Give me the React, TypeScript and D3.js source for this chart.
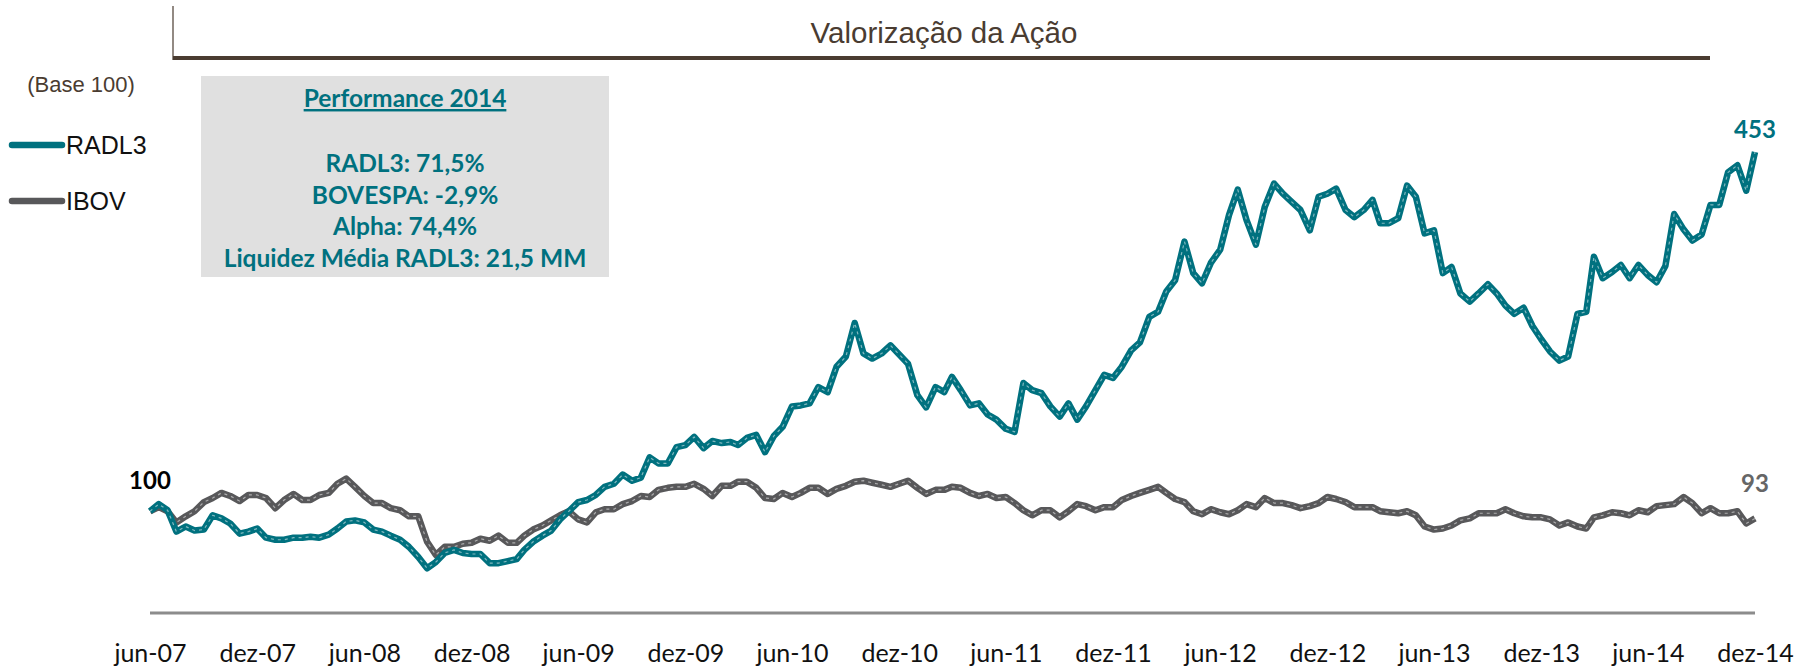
import React, { useEffect, useRef } from 'react';
import * as d3 from 'd3';

// valores base 100, um ponto a cada meio mês (jun-07 .. dez-14)
const radl3 = [
  100, 107, 101, 80, 85, 81, 82, 96, 93, 88, 78, 80, 83, 74, 72, 72, 74, 74, 75, 74,
  77, 83, 90, 91, 89, 82, 80, 76, 72, 65, 55, 44, 50, 59, 62, 59,
  58, 58, 49, 49, 51, 53, 62, 70, 76, 81, 92, 100, 109, 111, 116, 124, 127, 136, 130, 133,
  153, 147, 147, 163, 165, 173, 162, 169, 167, 168, 165, 172, 175, 158, 174, 183, 203, 204,
  206, 222, 217, 242, 252, 285, 255, 250, 255, 263, 254, 245, 214, 202, 222, 217, 232, 219, 204, 206,
  195, 190, 181, 178, 226, 219, 216, 203, 193, 206, 190, 203, 219, 234, 231, 242,
  258, 266, 291, 296, 316, 327, 365, 334, 324, 344, 357, 391, 416, 386, 362, 399, 422, 412, 404, 396,
  376, 409, 412, 417, 396, 389, 396, 406, 383, 383, 388, 420, 409, 373, 376, 334, 340, 314,
  306, 314, 323, 314, 302, 294, 300, 282, 269, 257, 248, 252, 294, 296, 350, 329, 335, 342, 329, 342,
  332, 325, 341, 392, 377, 366, 372, 401, 401, 433, 440, 415, 453,
];

const ibov = [
  100, 104, 100, 89, 95, 100, 109, 113, 118, 115, 110, 116, 116, 113, 103, 111, 117, 111, 111, 116,
  118, 127, 132, 124, 115, 108, 108, 103, 101, 95, 95, 70, 57, 65, 65, 68,
  69, 73, 71, 76, 69, 69, 76, 82, 86, 91, 96, 100, 92, 89, 99, 102, 102, 107, 110, 115,
  114, 121, 123, 124, 124, 127, 122, 115, 125, 125, 129, 129, 123, 113, 112, 118, 114, 118,
  123, 123, 117, 122, 125, 129, 130, 128, 126, 124, 127, 130, 123, 117, 121, 121, 124, 123, 118, 115,
  117, 113, 114, 108, 101, 96, 101, 101, 94, 100, 107, 105, 101, 104, 104, 111,
  115, 118, 121, 124, 118, 112, 109, 100, 97, 102, 99, 97, 101, 107, 104, 113, 108, 108, 106, 103,
  105, 108, 114, 112, 109, 104, 104, 104, 100, 99, 98, 100, 96, 85, 82, 83, 86, 91,
  93, 98, 98, 98, 102, 98, 95, 94, 94, 92, 86, 89, 85, 83, 94, 96, 99, 98, 96, 101,
  99, 105, 106, 107, 114, 108, 98, 103, 98, 98, 100, 88, 93,
];

const seriesNames = ['RADL3', 'IBOV'];
const perfTitle = 'Performance 2014';
const perfLines = ['RADL3: 71,5%', 'BOVESPA: -2,9%', 'Alpha: 74,4%', 'Liquidez Média RADL3: 21,5 MM'];

const TEAL = '#00717f';
const GREY = '#58585a';
const BROWN = '#4a3c31';

const ptBR = d3.timeFormatLocale({
  dateTime: '%A, %e de %B de %Y. %X',
  date: '%d/%m/%Y',
  time: '%H:%M:%S',
  periods: ['AM', 'PM'],
  days: ['Domingo', 'Segunda', 'Terça', 'Quarta', 'Quinta', 'Sexta', 'Sábado'],
  shortDays: ['Dom', 'Seg', 'Ter', 'Qua', 'Qui', 'Sex', 'Sáb'],
  months: ['Janeiro', 'Fevereiro', 'Março', 'Abril', 'Maio', 'Junho', 'Julho', 'Agosto', 'Setembro', 'Outubro', 'Novembro', 'Dezembro'],
  shortMonths: ['jan', 'fev', 'mar', 'abr', 'mai', 'jun', 'jul', 'ago', 'set', 'out', 'nov', 'dez'],
});

const App = () => {
  const ref = useRef<SVGSVGElement | null>(null);

  useEffect(() => {
    const svg = d3.select(ref.current);
    svg.selectAll('*').remove();

    const dates = radl3.map((_, i) => new Date(2007, 5 + Math.floor(i / 2), i % 2 ? 16 : 1));
    const start = new Date(2007, 5, 1);
    const end = new Date(2014, 11, 1);

    const x = d3.scaleTime().domain([start, end]).range([150, 1755]);
    const y = d3.scaleLinear().domain([0, 453]).range([613, 152]);

    // titulo
    svg.append('line').attr('x1', 173).attr('x2', 173).attr('y1', 6).attr('y2', 60)
      .attr('stroke', BROWN).attr('stroke-width', 1.2);
    svg.append('line').attr('x1', 173).attr('x2', 1710).attr('y1', 58).attr('y2', 58)
      .attr('stroke', BROWN).attr('stroke-width', 4);
    svg.append('text').attr('x', 944).attr('y', 43).attr('text-anchor', 'middle')
      .attr('font-family', 'Liberation Sans, Arial, sans-serif').attr('font-size', 29.5)
      .attr('fill', BROWN).text('Valorização da Ação');

    svg.append('text').attr('x', 81).attr('y', 92).attr('text-anchor', 'middle')
      .attr('font-family', 'Liberation Sans Narrow, Liberation Sans, Arial, sans-serif').attr('font-size', 22)
      .attr('fill', BROWN).text('(Base 100)');

    // legenda
    const legend = svg.append('g');
    seriesNames.forEach((name, i) => {
      const ly = 145 + i * 56;
      legend.append('line').attr('x1', 12).attr('x2', 62).attr('y1', ly).attr('y2', ly)
        .attr('stroke', i === 0 ? TEAL : GREY).attr('stroke-width', 6.5).attr('stroke-linecap', 'round');
      legend.append('text').attr('x', 66).attr('y', ly + 9)
        .attr('font-family', 'Liberation Sans Narrow, Liberation Sans, Arial, sans-serif').attr('font-size', 25)
        .attr('fill', '#111').text(name);
    });

    // caixa de performance
    svg.append('rect').attr('x', 201).attr('y', 76).attr('width', 408).attr('height', 201).attr('fill', '#e0e0e0');
    svg.append('text').attr('x', 405).attr('y', 107).attr('text-anchor', 'middle')
      .attr('font-family', 'Lato, sans-serif').attr('font-weight', 700).attr('font-size', 24.5)
      .attr('fill', TEAL).style('text-decoration', 'underline').text(perfTitle);
    svg.selectAll('.perf').data(perfLines).enter().append('text')
      .attr('class', 'perf')
      .attr('x', 405).attr('y', (_, i) => 172 + i * 31.5).attr('text-anchor', 'middle')
      .attr('font-family', 'Lato, sans-serif').attr('font-weight', 700).attr('font-size', 24.5)
      .attr('fill', TEAL).text(d => d);

    // eixo x
    const ticks = d3.timeMonth.range(start, d3.timeMonth.offset(end, 1), 6);
    const fmt = ptBR.format('%b-%y');
    const axis = svg.append('g').attr('transform', 'translate(0,613)')
      .call(d3.axisBottom(x).tickValues(ticks).tickFormat(d => fmt(d as Date)).tickSize(0).tickPadding(0));
    axis.select('.domain').remove();
    axis.append('line').attr('x1', 150).attr('x2', 1755).attr('stroke', '#8c8c8c').attr('stroke-width', 3);
    axis.selectAll('text').attr('y', 49).attr('dy', 0)
      .attr('font-family', 'Lato, sans-serif').attr('font-size', 25).attr('fill', '#111');

    // linhas
    const line = d3.line<number>().x((_, i) => x(dates[i])).y(d => y(d));
    [[ibov, GREY], [radl3, TEAL]].forEach(([vals, color]) => {
      svg.append('path').datum(vals as number[]).attr('d', line).attr('fill', 'none')
        .attr('stroke', color as string).attr('stroke-width', 6.5).attr('stroke-linejoin', 'round');
      svg.append('path').datum(vals as number[]).attr('d', line).attr('fill', 'none')
        .attr('stroke', '#fff').attr('stroke-width', 1.2).attr('stroke-opacity', 0.5)
        .attr('stroke-dasharray', '3 4').attr('stroke-linejoin', 'round');
    });

    // rotulos
    const last = radl3.length - 1;
    svg.append('text').attr('x', x(dates[0])).attr('y', y(radl3[0]) - 22).attr('text-anchor', 'middle')
      .attr('font-family', 'Lato, sans-serif').attr('font-weight', 700).attr('font-size', 24)
      .attr('fill', '#000').text(radl3[0]);
    svg.append('text').attr('x', x(dates[last])).attr('y', y(radl3[last]) - 14).attr('text-anchor', 'middle')
      .attr('font-family', 'Lato, sans-serif').attr('font-weight', 700).attr('font-size', 24)
      .attr('fill', TEAL).text(radl3[last]);
    svg.append('text').attr('x', x(dates[last])).attr('y', y(ibov[last]) - 26).attr('text-anchor', 'middle')
      .attr('font-family', 'Lato, sans-serif').attr('font-weight', 700).attr('font-size', 24)
      .attr('fill', '#666').text(ibov[last]);
  }, []);

  return (
    <svg ref={ref} width={1806} height={671}
      style={{ position: 'absolute', left: 0, top: 0, display: 'block', background: '#fff' }} />
  );
};

export default App;
